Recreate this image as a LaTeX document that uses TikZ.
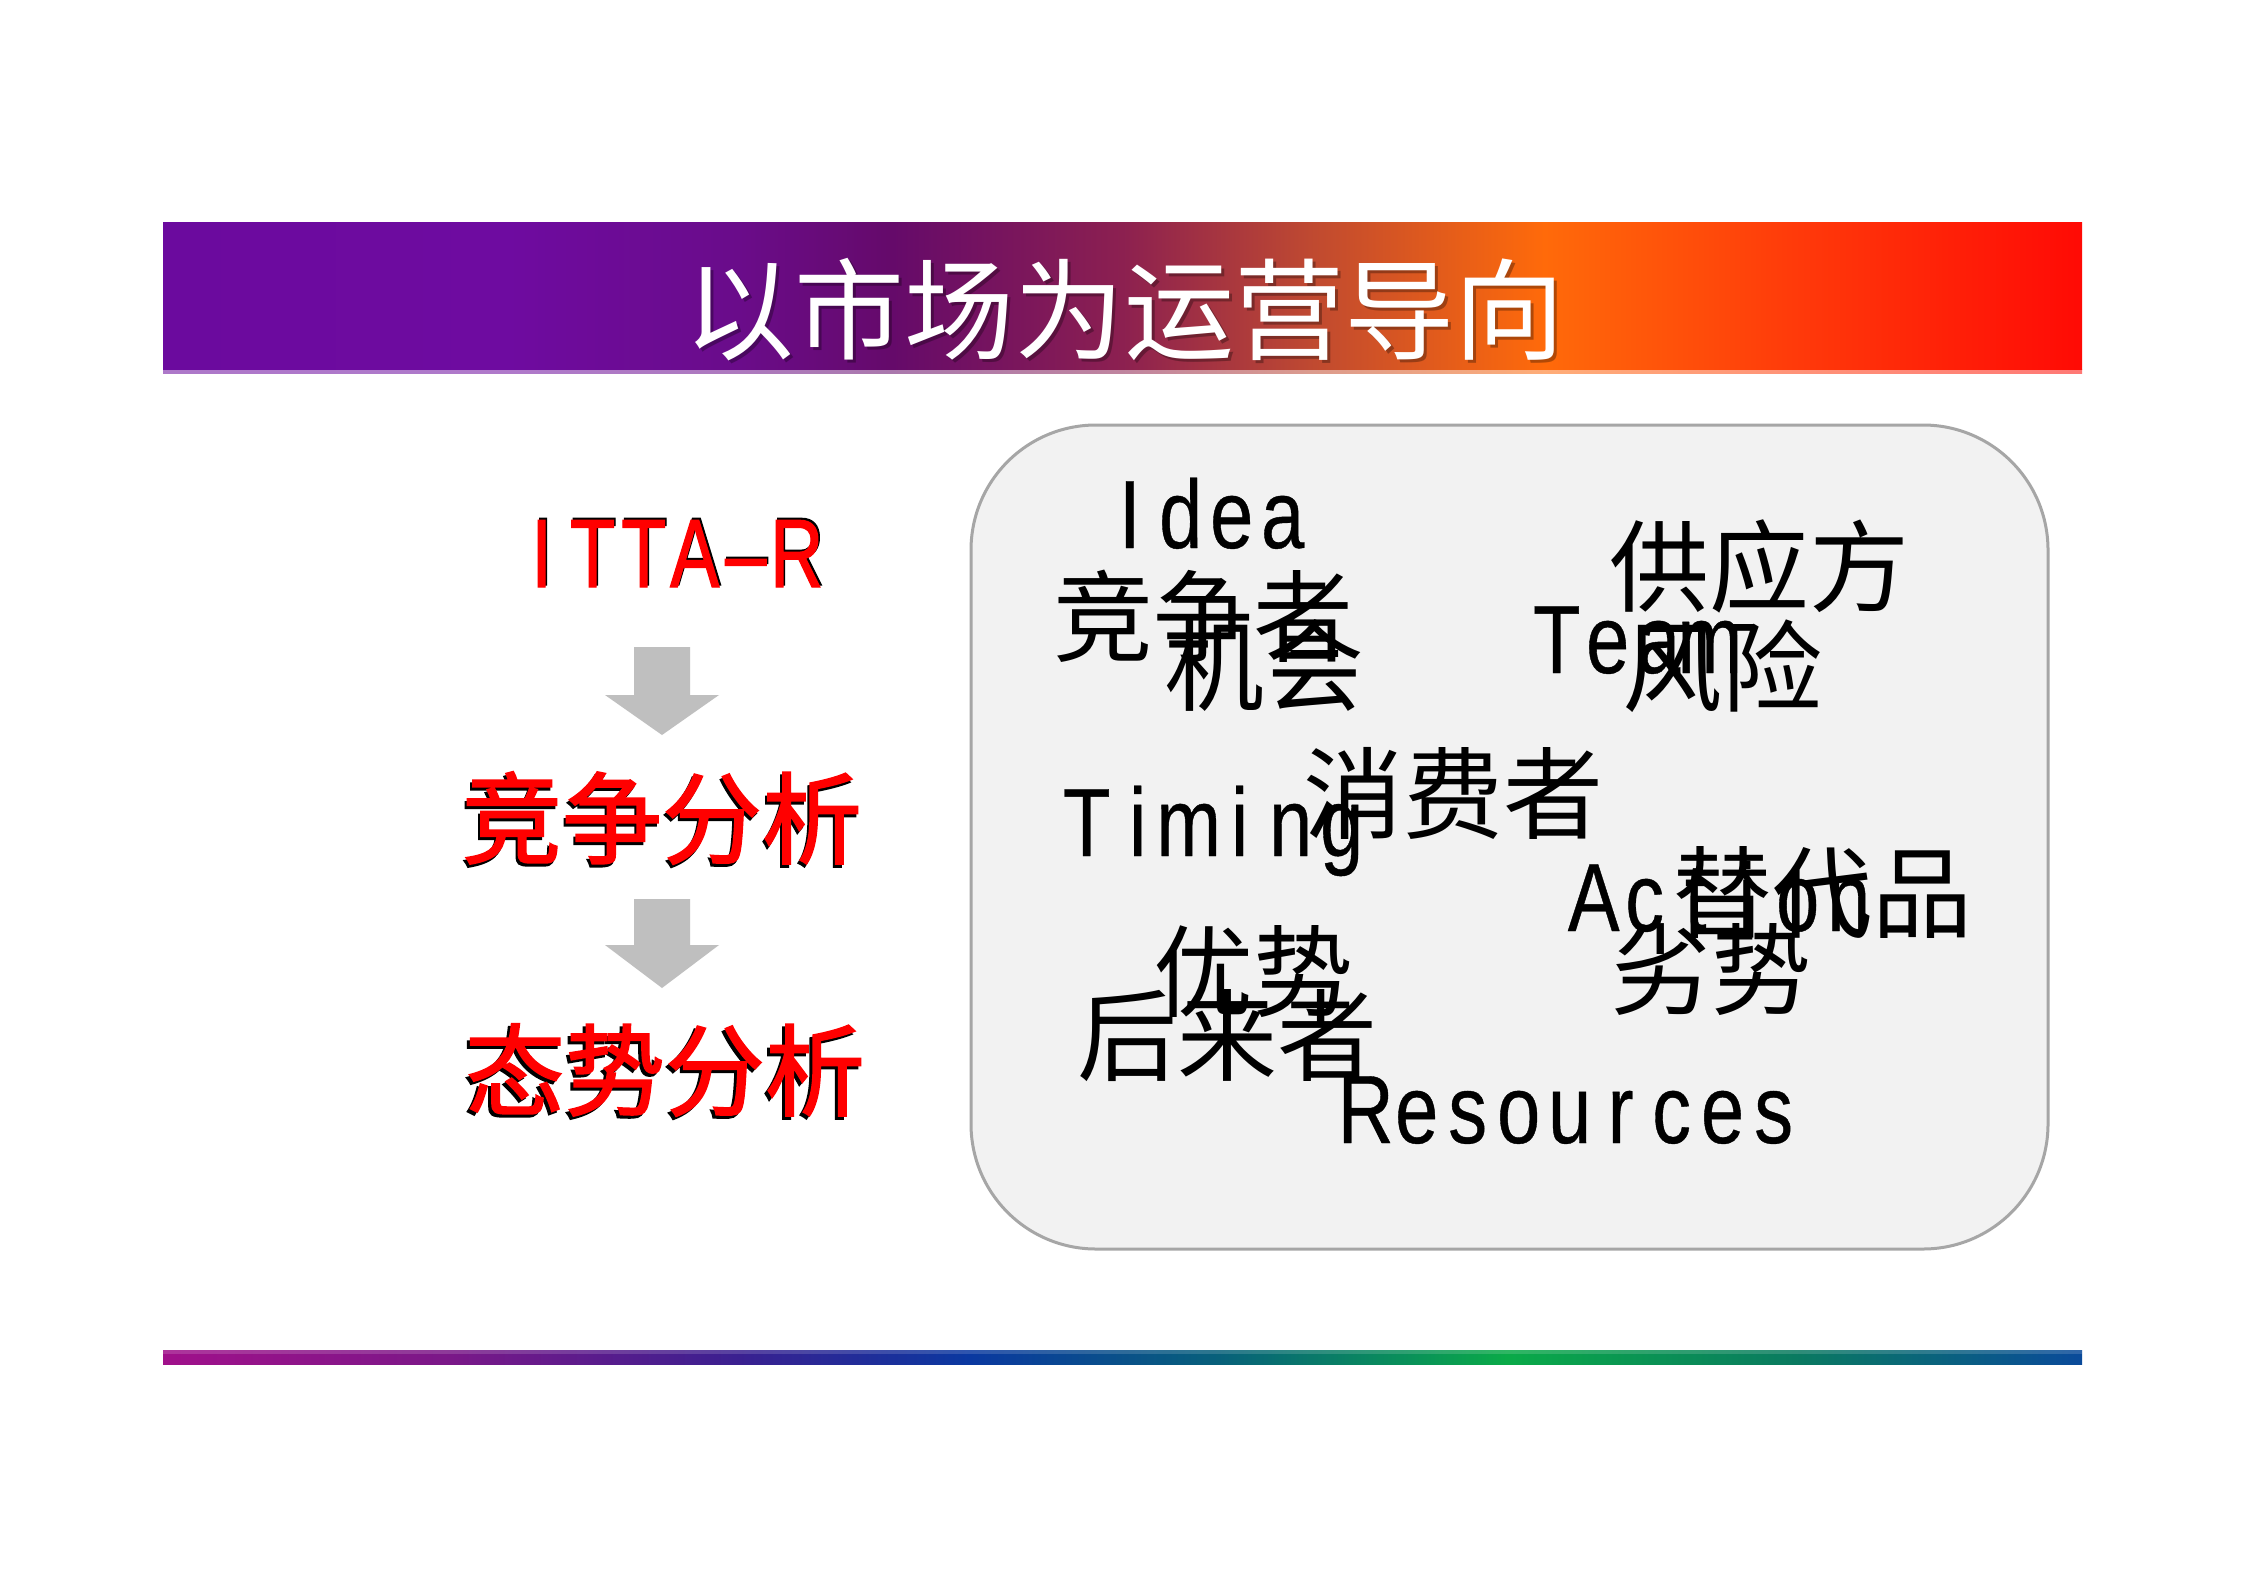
\documentclass[tikz,border=0pt]{standalone}
\usepackage{fontspec}
\newfontfamily\cjk{Noto Sans CJK SC}
\newfontfamily\cjkb[FakeBold=1.6]{Noto Sans CJK SC}
\newfontfamily\lat[FakeStretch=0.8,FakeBold=0.4]{Liberation Sans}
\newfontfamily\latb[FakeStretch=0.76,FakeBold=1.2]{Liberation Sans}
\newcommand\fsz[1]{\fontsize{#1}{#1}\selectfont}
\newcommand\monoword[1]{\monoloop#1\relax}
\def\monoloop#1{\ifx#1\relax\else\makebox[51pt]{#1}\expandafter\monoloop\fi}
\definecolor{tb0}{HTML}{6B0A9E}
\definecolor{tb1}{HTML}{6E0BA0}
\definecolor{tb2}{HTML}{6A0C8A}
\definecolor{tb3}{HTML}{650A6A}
\definecolor{tb4}{HTML}{8C2050}
\definecolor{tb5}{HTML}{C04A30}
\definecolor{tb6}{HTML}{FF6A0A}
\definecolor{tb7}{HTML}{FF3A0A}
\definecolor{tb8}{HTML}{FF0A05}
\definecolor{bb0}{HTML}{A0108A}
\definecolor{bb1}{HTML}{7A1888}
\definecolor{bb2}{HTML}{3A2090}
\definecolor{bb3}{HTML}{0A38A0}
\definecolor{bb4}{HTML}{08607A}
\definecolor{bb5}{HTML}{0AAA48}
\definecolor{bb6}{HTML}{0A7A60}
\definecolor{bb7}{HTML}{0A4A9A}
\definecolor{boxfill}{HTML}{F2F2F2}
\definecolor{boxline}{HTML}{A6A6A6}
\definecolor{arrowgray}{HTML}{BFBFBF}
\pgfdeclarehorizontalshading{topbar}{100bp}{color(0bp)=(tb0); color(25bp)=(tb0); color(34bp)=(tb1); color(40bp)=(tb2); color(44bp)=(tb3); color(50bp)=(tb4); color(55bp)=(tb5); color(61bp)=(tb6); color(67.5bp)=(tb7); color(75bp)=(tb8); color(100bp)=(tb8)}
\pgfdeclarehorizontalshading{botbar}{100bp}{color(0bp)=(bb0); color(25bp)=(bb0); color(32.5bp)=(bb1); color(40bp)=(bb2); color(46bp)=(bb3); color(52.5bp)=(bb4); color(60bp)=(bb5); color(67.5bp)=(bb6); color(75bp)=(bb7); color(100bp)=(bb7)}
\begin{document}
\begin{tikzpicture}[x=1pt,y=-1pt,
  cjkt/.style={inner sep=0pt,font=\cjk\fsz{100pt}},
  cjkred/.style={inner sep=0pt,font=\cjkb\fsz{100pt},text=red},
  cjkshadow/.style={inner sep=0pt,font=\cjkb\fsz{100pt},text=black},
  latt/.style={inner sep=0pt,anchor=base west,font=\lat\fsz{97pt}},
  lattred/.style={inner sep=0pt,anchor=base west,font=\latb\fsz{97pt}},
  arrowshape/.style={fill=arrowgray,draw=none}]
\useasboundingbox (0,0) rectangle (2245,1587);
\fill[white] (0,0) rectangle (2245,1587);
% title bar
\shade[shading=topbar] (163,222) rectangle (2082,369);
\shade[shading=topbar,opacity=0.55] (163,369) rectangle (2082,373);
\node[inner sep=0pt,font=\cjk\fsz{110pt},text=black,opacity=0.3] (titleshadow) at (1127,313) {以市场为运营导向};
\node[inner sep=0pt,font=\cjk\fsz{110pt},text=white] (title) at (1124,310) {以市场为运营导向};
% bottom bar
\shade[shading=botbar] (163,1350) rectangle (2082,1364);
\fill[white,opacity=0.15] (163,1350) rectangle (2082,1354);
% left column
\node[lattred,text=black] (ittas) at (517.5,585) {\monoword{ITTA–R}};
\node[lattred,text=red] (itta) at (516,587) {\monoword{ITTA–R}};
\fill[arrowshape] (634,647) -- (690,647) -- (690,695) -- (719,695) -- (662,735) -- (605,695) -- (634,695) -- cycle;
\node[cjkshadow] (jzs) at (660,821) {竞争分析};
\node[cjkred] (jz) at (662,818) {竞争分析};
\fill[arrowshape] (634,899) -- (690,899) -- (690,945) -- (719,945) -- (662,988) -- (605,945) -- (634,945) -- cycle;
\node[cjkshadow] (tss) at (662,1073) {态势分析};
\node[cjkred] (ts) at (665,1070) {态势分析};
% right box
\node[draw=boxline,fill=boxfill,line width=3pt,rounded corners=125pt,minimum width=1077pt,minimum height=824pt,inner sep=0pt] (box) at (1509.5,837) {};
\node[latt] (idea) at (1104,548) {\monoword{Idea}};
\node[cjkt] (jzz) at (1203,616) {竞争者};
\node[cjkt] (jh) at (1264,665) {机会};
\node[cjkt] (gyf) at (1759,566) {供应方};
\node[latt] (team) at (1531,673) {\monoword{Team}};
\node[cjkt] (fx) at (1722,666) {风险};
\node[latt] (timing) at (1061,856) {\monoword{Timing}};
\node[cjkt] (xfz) at (1453,793) {消费者};
\node[latt] (action) at (1568,931) {\monoword{Action}};
\node[cjkt] (tdp) at (1822,893) {替代品};
\node[cjkt] (ls) at (1711,970) {劣势};
\node[cjkt] (ys) at (1253,972) {优势};
\node[cjkt] (hlz) at (1227,1036) {后来者};
\node[latt] (res) at (1340,1143) {\monoword{Resources}};
\end{tikzpicture}
\end{document}
